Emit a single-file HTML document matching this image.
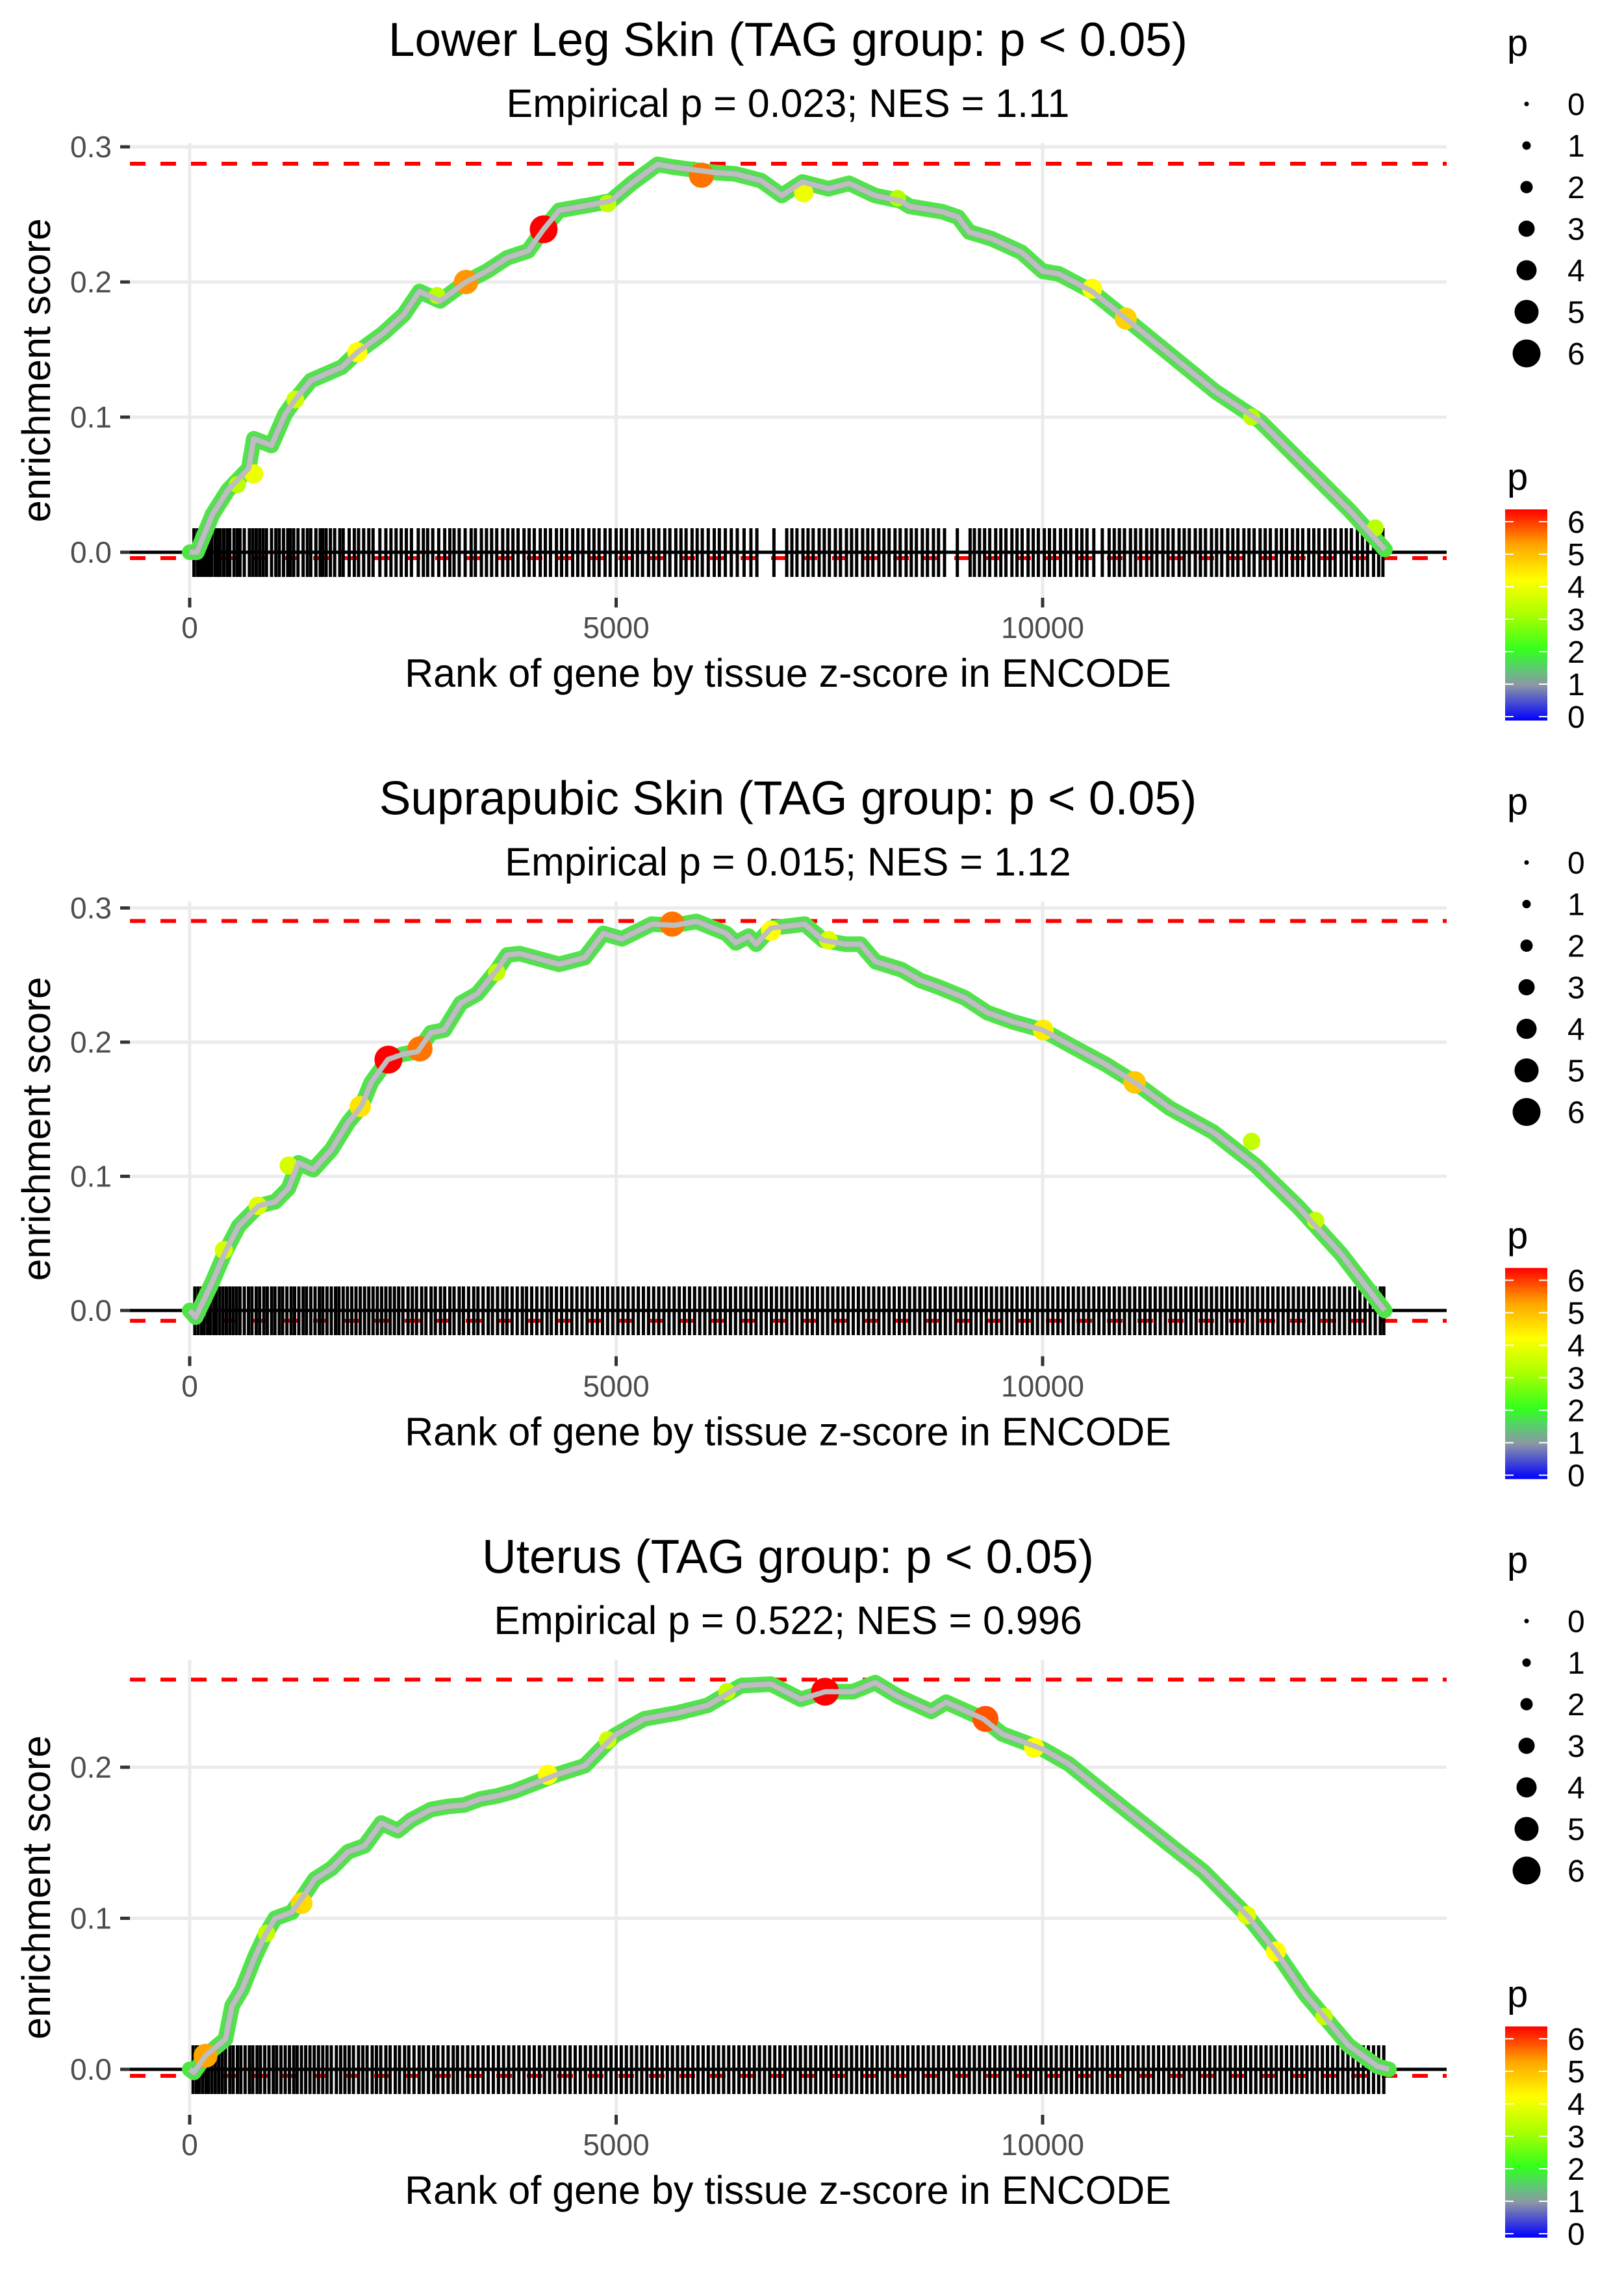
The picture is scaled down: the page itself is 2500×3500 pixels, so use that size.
<!DOCTYPE html>
<html><head><meta charset="utf-8"><style>
html,body{margin:0;padding:0;background:#fff}
svg{display:block}
text{font-family:"Liberation Sans",sans-serif}
</style></head><body>
<svg id="chart" xmlns="http://www.w3.org/2000/svg" width="2500" height="3500" viewBox="0 0 2500 3500">
<rect x="0" y="0" width="2500" height="3500" fill="#fff"/>
</svg>
<script>
// ---------- data ----------
const panelTitles = ["Lower Leg Skin (TAG group: p < 0.05)", "Suprapubic Skin (TAG group: p < 0.05)", "Uterus (TAG group: p < 0.05)"];
const panelSubtitles = ["Empirical p = 0.023; NES = 1.11", "Empirical p = 0.015; NES = 1.12", "Empirical p = 0.522; NES = 0.996"];
const xTicks = [0, 5000, 10000];
const xTickLabels = ["0", "5000", "10000"];
const yTicks1 = [0, 0.1, 0.2, 0.3];
const yTicks2 = [0, 0.1, 0.2, 0.3];
const yTicks3 = [0, 0.1, 0.2];
const yTickLabels1 = ["0.0", "0.1", "0.2", "0.3"];
const yTickLabels2 = ["0.0", "0.1", "0.2", "0.3"];
const yTickLabels3 = ["0.0", "0.1", "0.2"];
const maxES = [0.2875, 0.2903, 0.258];
const minES = [-0.0043, -0.0077, -0.0043];

const p1Rank = [0,85,267,449,692,752,959,1117,1238,1420,1784,1966,2269,2512,2694,2937,3240,3483,3726,3968,4150,4333,4697,4939,5182,5485,5668,5910,6153,6396,6699,6942,7185,7488,7731,8034,8337,8439,8822,9008,9139,9401,9751,10000,10188,10581,10975,11500,12024,12549,13074,13599,14014];
const p1ES = [0,0,0.028,0.046,0.062,0.084,0.079,0.102,0.113,0.127,0.137,0.148,0.162,0.176,0.193,0.186,0.2,0.208,0.218,0.223,0.239,0.253,0.257,0.26,0.273,0.287,0.285,0.283,0.281,0.28,0.275,0.264,0.274,0.269,0.273,0.264,0.26,0.256,0.252,0.248,0.237,0.232,0.222,0.208,0.206,0.193,0.173,0.146,0.119,0.097,0.064,0.031,0.002];
const p1DotRank = [4150,3240,6000,10975,10581,7200,1966,750,1238,560,2900,4900,12450,13900,8300];
const p1DotES = [0.239,0.2,0.279,0.173,0.195,0.266,0.148,0.058,0.113,0.05,0.19,0.258,0.1,0.018,0.262];
const p1DotP = [6,5.1,5.3,4.5,4,3.8,4,3.8,3.4,3.2,3.2,3.3,3.2,3.2,3.1];

const p2Rank = [0,70,264,420,575,808,1002,1158,1274,1449,1663,1857,2012,2129,2323,2498,2673,2828,2984,3178,3372,3605,3722,3870,4330,4631,4849,5068,5418,5680,5942,6292,6401,6554,6642,6816,7210,7428,7690,7865,8040,8346,8565,8783,9089,9352,9658,10000,10314,10752,11102,11487,12000,12500,13000,13500,14010];
const p2ES = [0,-0.005,0.021,0.044,0.063,0.078,0.081,0.091,0.11,0.105,0.12,0.14,0.152,0.17,0.187,0.191,0.193,0.207,0.209,0.229,0.236,0.254,0.265,0.266,0.258,0.263,0.281,0.277,0.288,0.287,0.29,0.281,0.274,0.279,0.273,0.285,0.288,0.276,0.273,0.273,0.26,0.254,0.246,0.241,0.233,0.222,0.215,0.209,0.198,0.183,0.169,0.151,0.133,0.108,0.077,0.042,0];
const p2DotRank = [2330,2700,5658,2000,11080,10008,1160,800,400,6816,7490,3600,12450,13200];
const p2DotES = [0.187,0.195,0.288,0.152,0.17,0.209,0.108,0.078,0.045,0.283,0.276,0.252,0.126,0.067];
const p2DotP = [6,5.3,5.3,4.3,4.6,4.2,3.5,3.6,3.5,4,3.6,3.3,3.3,3.3];

const p3Rank = [0,50,186,420,497,614,769,886,1002,1197,1313,1468,1663,1857,2051,2246,2440,2595,2828,3023,3217,3411,3605,3800,4300,4631,4980,5330,5723,6073,6466,6815,7165,7450,7776,8038,8301,8694,8869,9306,9525,10000,10310,10747,11482,11886,12395,12735,13075,13584,13924,14060];
const p3ES = [0,-0.002,0.009,0.02,0.042,0.053,0.075,0.089,0.1,0.104,0.113,0.126,0.133,0.144,0.148,0.163,0.158,0.165,0.172,0.174,0.175,0.179,0.181,0.184,0.195,0.201,0.221,0.232,0.236,0.241,0.254,0.255,0.245,0.25,0.25,0.256,0.247,0.237,0.243,0.232,0.222,0.212,0.202,0.182,0.149,0.131,0.102,0.078,0.05,0.016,0.002,0];
const p3DotRank = [186,7450,9330,1313,4200,12735,12395,9900,900,4900,6300,13300];
const p3DotES = [0.009,0.25,0.232,0.11,0.195,0.078,0.102,0.213,0.09,0.218,0.25,0.035];
const p3DotP = [5,6,5.5,4.4,4,4,3.6,4,3.3,3.4,3.3,3.3];

const p1Rug = "50 90 120 150 175 200 230 260 300 330 360 400 440 470 520 560 590 640 700 740 780 820 860 900 960 1010 1050 1100 1150 1180 1220 1270 1330 1380 1420 1480 1530 1560 1600 1650 1700 1760 1800 1870 1930 1980 2040 2100 2150 2230 2300 2360 2420 2480 2540 2600 2680 2740 2790 2850 2920 2990 3050 3100 3160 3230 3300 3350 3420 3480 3540 3600 3670 3730 3790 3850 3920 3980 4040 4110 4170 4230 4300 4360 4420 4490 4550 4610 4680 4740 4800 4870 4930 5000 5060 5120 5190 5250 5310 5380 5440 5500 5570 5630 5700 5760 5820 5890 5950 6010 6080 6150 6210 6280 6350 6420 6500 6580 6650 6850 7000 7060 7120 7190 7250 7310 7380 7440 7500 7570 7630 7700 7760 7820 7890 7950 8010 8080 8140 8200 8270 8330 8400 8460 8520 8590 8650 8720 8780 8850 9000 9150 9200 9260 9320 9380 9450 9510 9570 9640 9700 9760 9830 9890 9950 10020 10080 10140 10210 10270 10330 10400 10460 10520 10600 10700 10780 10840 10900 10960 11030 11090 11150 11220 11280 11340 11410 11470 11530 11600 11660 11720 11790 11850 11910 11980 12040 12100 12170 12230 12290 12360 12420 12480 12550 12610 12670 12740 12800 12860 12930 12990 13050 13120 13180 13240 13310 13370 13430 13500 13560 13620 13690 13750 13810 13880 13940 13990".split(" ").map(Number);
const p2Rug = "60 100 140 170 210 240 280 310 350 390 430 470 510 550 590 640 690 730 780 820 870 910 960 1000 1050 1090 1140 1190 1230 1280 1330 1370 1420 1470 1520 1560 1610 1660 1710 1750 1800 1850 1900 1950 2000 2050 2100 2150 2200 2250 2300 2350 2400 2450 2500 2560 2610 2660 2720 2770 2830 2880 2940 2990 3050 3100 3160 3210 3270 3330 3380 3440 3500 3550 3610 3670 3720 3780 3840 3900 3950 4010 4070 4130 4190 4240 4300 4360 4420 4480 4540 4600 4660 4720 4780 4840 4900 4960 5020 5080 5140 5200 5260 5320 5380 5440 5500 5560 5620 5680 5740 5800 5860 5920 5980 6040 6100 6160 6220 6280 6340 6400 6460 6520 6580 6640 6700 6760 6820 6880 6940 7000 7060 7120 7180 7240 7300 7360 7420 7480 7540 7600 7660 7720 7780 7840 7900 7960 8020 8080 8140 8200 8260 8320 8380 8440 8500 8560 8620 8680 8740 8800 8860 8920 8980 9040 9100 9160 9220 9280 9340 9400 9460 9520 9580 9640 9700 9760 9820 9880 9940 10000 10060 10120 10180 10240 10300 10360 10420 10480 10540 10600 10660 10720 10780 10840 10900 10960 11020 11080 11140 11200 11260 11320 11380 11440 11500 11560 11620 11680 11740 11800 11860 11920 11980 12040 12100 12160 12220 12280 12340 12400 12460 12520 12580 12640 12700 12760 12820 12880 12940 13000 13060 13120 13180 13240 13300 13360 13420 13480 13540 13600 13660 13720 13780 13840 13900 13960 14000".split(" ").map(Number);
const p3Rug = "40 80 110 150 190 220 260 300 340 380 420 470 510 560 600 650 700 740 790 830 880 930 980 1020 1070 1120 1170 1220 1260 1310 1360 1410 1460 1510 1560 1610 1660 1720 1770 1820 1870 1920 1980 2030 2080 2140 2190 2240 2300 2350 2410 2460 2520 2570 2630 2690 2740 2800 2860 2910 2970 3030 3090 3140 3200 3260 3320 3380 3440 3500 3560 3620 3680 3740 3800 3860 3920 3980 4040 4100 4160 4220 4280 4340 4400 4460 4520 4580 4640 4700 4760 4820 4880 4940 5000 5060 5120 5180 5240 5300 5360 5420 5480 5540 5600 5660 5720 5780 5840 5900 5960 6020 6080 6140 6200 6260 6320 6380 6440 6500 6560 6620 6680 6740 6800 6860 6920 6980 7040 7100 7160 7220 7280 7340 7400 7460 7520 7580 7640 7700 7760 7820 7880 7940 8000 8060 8120 8180 8240 8300 8360 8420 8480 8540 8600 8660 8720 8780 8840 8900 8960 9020 9080 9140 9200 9260 9320 9380 9440 9500 9560 9620 9680 9740 9800 9860 9920 9980 10040 10100 10160 10220 10280 10340 10400 10460 10520 10580 10640 10700 10760 10820 10880 10940 11000 11060 11120 11180 11240 11300 11360 11420 11480 11540 11600 11660 11720 11780 11840 11900 11960 12020 12080 12140 12200 12260 12320 12380 12440 12500 12560 12620 12680 12740 12800 12860 12920 12980 13040 13100 13160 13220 13280 13340 13400 13460 13520 13580 13640 13700 13760 13820 13880 13940 14000".split(" ").map(Number);

const sizeLegendValues = [0, 1, 2, 3, 4, 5, 6];
const colorbarLabels = [0, 1, 2, 3, 4, 5, 6];

// ---------- layout ----------
const NS = "http://www.w3.org/2000/svg";
const svg = document.getElementById("chart");
const layouts = [
  {off: 0, top: 220, bottom: 920, y0: 850, ypx: 2080},
  {off: 1167.5, top: 1387.5, bottom: 2087.5, y0: 2017, ypx: 2065},
  {off: 2335, top: 2555, bottom: 3255, y0: 3185, ypx: 2325}
];
const PL = 200, PR = 2227;
function xScale(r) { return 292 + 0.1313 * r; }

function mk(tag, attrs, parent) {
  const e = document.createElementNS(NS, tag);
  for (const k in attrs) e.setAttribute(k, attrs[k]);
  (parent || svg).appendChild(e);
  return e;
}
function lerp(a, b, t) { return Math.round(a + (b - a) * t); }
const cStops = [[0,[0,0,255]],[1,[140,150,165]],[1.5,[90,205,110]],[2,[50,255,30]],[3,[170,255,0]],[4,[255,255,0]],[5,[255,165,0]],[6,[255,0,0]]];
function pColor(p) {
  for (let i = 0; i < cStops.length - 1; i++) {
    const a = cStops[i], b = cStops[i + 1];
    if (p <= b[0]) {
      const t = Math.max(0, (p - a[0]) / (b[0] - a[0]));
      return "rgb(" + lerp(a[1][0], b[1][0], t) + "," + lerp(a[1][1], b[1][1], t) + "," + lerp(a[1][2], b[1][2], t) + ")";
    }
  }
  return "rgb(255,0,0)";
}
function pDiam(p) { return 7 + 6 * p; }

const allRank = [p1Rank, p2Rank, p3Rank];
const allES = [p1ES, p2ES, p3ES];
const allDotRank = [p1DotRank, p2DotRank, p3DotRank];
const allDotES = [p1DotES, p2DotES, p3DotES];
const allDotP = [p1DotP, p2DotP, p3DotP];
const allRug = [p1Rug, p2Rug, p3Rug];
const allYTicks = [yTicks1, yTicks2, yTicks3];
const allYLabels = [yTickLabels1, yTickLabels2, yTickLabels3];

layouts.forEach((L, i) => {
  const g = mk("g", {});
  
  
  const yS = v => L.y0 - v * L.ypx;

  const t = mk("text", {x: 1213, y: 86 + L.off, "text-anchor": "middle", "font-size": 73, fill: "#000"}, g);
  t.textContent = panelTitles[i];
  
  
  const st = mk("text", {x: 1213, y: 180 + L.off, "text-anchor": "middle", "font-size": 61, fill: "#000"}, g);
  st.textContent = panelSubtitles[i];
  
  

  allYTicks[i].forEach((v, k) => {
    const gl = mk("line", {x1: PL, x2: PR, y1: yS(v), y2: yS(v), stroke: "#ebebeb", "stroke-width": 5}, g);
    
    
    const tk = mk("line", {x1: 185, x2: 200, y1: yS(v), y2: yS(v), stroke: "#333", "stroke-width": 5}, g);
    
    
    const tl = mk("text", {x: 172, y: yS(v) + 16, "text-anchor": "end", "font-size": 46, fill: "#4d4d4d"}, g);
    tl.textContent = allYLabels[i][k];
    
    
  });
  xTicks.forEach((v, k) => {
    const gl = mk("line", {x1: xScale(v), x2: xScale(v), y1: L.top, y2: L.bottom, stroke: "#ebebeb", "stroke-width": 5}, g);
    
    
    const tk = mk("line", {x1: xScale(v), x2: xScale(v), y1: L.bottom, y2: L.bottom + 15, stroke: "#333", "stroke-width": 5}, g);
    
    
    const tl = mk("text", {x: xScale(v), y: L.bottom + 62, "text-anchor": "middle", "font-size": 46, fill: "#4d4d4d"}, g);
    tl.textContent = xTickLabels[k];
    
    
  });

  const xt = mk("text", {x: 1213, y: L.bottom + 137, "text-anchor": "middle", "font-size": 61, fill: "#000"}, g);
  xt.textContent = "Rank of gene by tissue z-score in ENCODE";
  
  
  const cy = (L.top + L.bottom) / 2;
  const yt = mk("text", {x: 0, y: 0, "text-anchor": "middle", "font-size": 61, fill: "#000", transform: "translate(77," + cy + ") rotate(-90)"}, g);
  yt.textContent = "enrichment score";
  
  

  const dm = mk("line", {x1: PL, x2: PR, y1: yS(maxES[i]), y2: yS(maxES[i]), stroke: "#ff0000", "stroke-width": 6, "stroke-dasharray": "24 23"}, g);
  
  
  const dn = mk("line", {x1: PL, x2: PR, y1: yS(minES[i]), y2: yS(minES[i]), stroke: "#ff0000", "stroke-width": 6, "stroke-dasharray": "24 23"}, g);
  
  

  const rg = mk("g", {}, g);
  
  
  allRug[i].forEach(r => {
    const l = mk("line", {x1: xScale(r), x2: xScale(r), y1: yS(0) - 37, y2: yS(0) + 38, stroke: "#000", "stroke-width": 5}, rg);
    
    
  });
  const zl = mk("line", {x1: PL, x2: PR, y1: yS(0), y2: yS(0), stroke: "#000", "stroke-width": 5}, g);
  
  

  const pts = allRank[i].map((r, k) => xScale(r).toFixed(1) + "," + yS(allES[i][k]).toFixed(1)).join(" ");
  const band = mk("polyline", {points: pts, fill: "none", stroke: "#4fe545", "stroke-width": 24, "stroke-linejoin": "round", "stroke-linecap": "round"}, g);
  
  
  const band2 = mk("polyline", {points: pts, fill: "none", stroke: "#6cc97a", "stroke-width": 13, "stroke-linejoin": "round"}, g);
  
  
  allDotRank[i].forEach((r, k) => {
    const p = allDotP[i][k];
    const c = mk("circle", {cx: xScale(r), cy: yS(allDotES[i][k]), r: pDiam(p) / 2, fill: pColor(p)}, g);
    
    
  });
  const line = mk("polyline", {points: pts, fill: "none", stroke: "#bebebe", "stroke-width": 8, "stroke-linejoin": "round"}, g);
  
  

  const lg = mk("g", {}, g);
  
  
  const lt = mk("text", {x: 2320, y: 86 + L.off, "font-size": 58, fill: "#000"}, lg);
  lt.textContent = "p";
  
  
  sizeLegendValues.forEach((v, k) => {
    const yy = 160 + k * 64 + L.off;
    const c = mk("circle", {cx: 2350, cy: yy, r: pDiam(v) / 2, fill: "#000"}, lg);
    
    
    const tx = mk("text", {x: 2413, y: yy + 17, "font-size": 48, fill: "#000"}, lg);
    tx.textContent = String(v);
    
    
  });

  const cg = mk("g", {}, g);
  
  
  const ct = mk("text", {x: 2320, y: 754 + L.off, "font-size": 58, fill: "#000"}, cg);
  ct.textContent = "p";
  
  
  const gid = "cbgrad" + i;
  const defs = mk("defs", {}, cg);
  const lgd = mk("linearGradient", {id: gid, x1: 0, y1: 1, x2: 0, y2: 0}, defs);
  cStops.forEach(s => { mk("stop", {offset: (s[0] / 6), "stop-color": pColor(s[0])}, lgd); });
  const cb = mk("rect", {x: 2317, y: 784 + L.off, width: 65, height: 325, fill: "url(#" + gid + ")"}, cg);
  
  
  colorbarLabels.forEach(v => {
    const yy = 1103 + L.off - v * 50;
    mk("line", {x1: 2317, x2: 2330, y1: yy, y2: yy, stroke: "#fff", "stroke-width": 2}, cg);
    mk("line", {x1: 2369, x2: 2382, y1: yy, y2: yy, stroke: "#fff", "stroke-width": 2}, cg);
    const tx = mk("text", {x: 2413, y: yy + 17, "font-size": 48, fill: "#000"}, cg);
    tx.textContent = String(v);
    
    
  });
});
</script>
</body></html>
